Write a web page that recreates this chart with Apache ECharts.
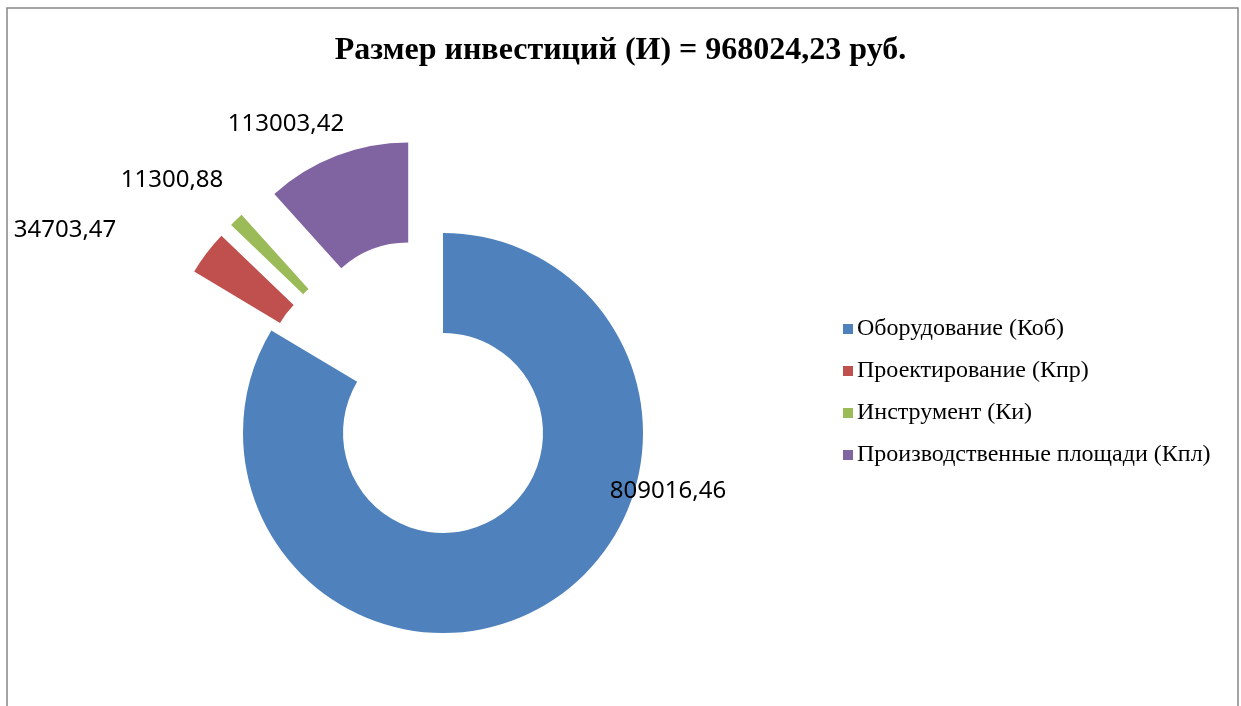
<!DOCTYPE html>
<html>
<head>
<meta charset="utf-8">
<script src="https://cdn.jsdelivr.net/npm/echarts@6/dist/echarts.min.js"></script>
<style>
  html, body { margin: 0; padding: 0; background: #fff; }
  #invest_chart { width: 1241px; height: 706px; }
</style>
</head>
<body>
<div id="invest_chart"></div>
<script>
   var titleText = 'Размер инвестиций (И) = 968024,23 руб.';
   var names = ['Оборудование (Коб)', 'Проектирование (Кпр)', 'Инструмент (Ки)', 'Производственные площади (Кпл)'];
   var values = [809016.46, 34703.47, 11300.88, 113003.42];
   var colors = ['#4F81BD', '#C0504D', '#9BBB59', '#8064A2'];
   var exploded = [false, true, true, true];

   // где стоят подписи (центр текста), как в исходнике
   var labelPos = [[668, 491], [65, 230], [172, 180], [286, 124]];

   var pieData = [];
   var labelData = [];
   for (var i = 0; i < names.length; i++) {
      pieData.push({
         name: names[i],
         value: values[i],
         selected: exploded[i],
         itemStyle: { color: colors[i] }
      });
      // второй (прозрачный) ряд только для подписей
      labelData.push({ name: names[i], value: values[i] });
   }

   var investChart = echarts.init(document.getElementById('invest_chart'));
   var invest_option = {
      animation: false,
      title: {
         text: titleText,
         left: 'center',
         top: 30,
         textStyle: {
            fontFamily: 'Liberation Serif',
            fontWeight: 'bold',
            fontSize: 32,
            color: '#000'
         }
      },
      legend: {
         orient: 'vertical',
         left: 838,
         top: 312,
         itemWidth: 10,
         itemHeight: 10,
         itemGap: 18,
         icon: 'rect',
         selectedMode: false,
         textStyle: {
            fontFamily: 'Liberation Serif',
            fontSize: 24,
            color: '#000',
            padding: [0, 0, 0, -1]
         },
         data: names
      },
      graphic: [{
         type: 'rect',
         silent: true,
         shape: { x: 7, y: 8, width: 1231, height: 730 },
         style: { fill: 'none', stroke: '#868686', lineWidth: 1.5 }
      }],
      series: [
         {
            name: 'Инвестиции',
            type: 'pie',
            center: [443, 433],
            radius: [100, 200],
            startAngle: 90,
            clockwise: true,
            selectedMode: 'multiple',
            selectedOffset: 97,
            emphasis: { disabled: true },
            label: { show: false },
            labelLine: { show: false },
            data: pieData
         },
         {
            name: 'Подписи',
            type: 'pie',
            silent: true,
            center: [443, 433],
            radius: [100, 200],
            startAngle: 90,
            clockwise: true,
            selectedMode: false,
            avoidLabelOverlap: false,
            emphasis: { disabled: true },
            itemStyle: { color: 'rgba(0,0,0,0)' },
            label: {
               show: true,
               position: 'outside',
               fontFamily: 'Noto Sans',
               fontSize: 24,
               color: '#000',
               formatter: function (p) {
                  return p.value.toFixed(2).replace('.', ',');
               }
            },
            labelLine: { show: false },
            labelLayout: function (p) {
               var pos = labelPos[p.dataIndex];
               return {
                  x: pos[0],
                  y: pos[1],
                  align: 'center',
                  verticalAlign: 'middle'
               };
            },
            data: labelData
         }
      ]
   };
   investChart.setOption(invest_option);
</script>
</body>
</html>
